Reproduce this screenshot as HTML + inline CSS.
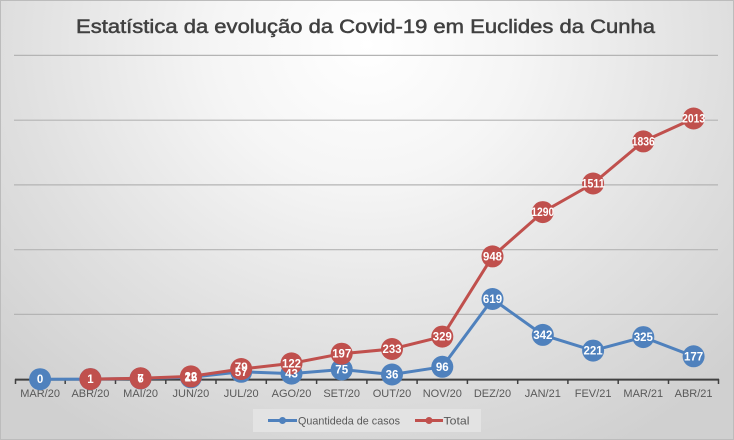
<!DOCTYPE html>
<html><head><meta charset="utf-8"><style>
html,body{margin:0;padding:0;}
body{width:734px;height:440px;overflow:hidden;}
.chart{position:relative;width:732px;height:438px;border:1px solid #bcbcbc;
background:radial-gradient(ellipse 70% 105% at 50% 10%, #ffffff 0%, #f5f5f5 30%, #e0e0e0 68%, #d0d0d0 100%);}
svg{position:absolute;left:-1px;top:-1px;}
</style></head><body>
<div class="chart">
<svg width="734" height="440" viewBox="0 0 734 440" xmlns="http://www.w3.org/2000/svg" font-family="Liberation Sans, Arial, sans-serif">
<text x="365.5" y="33" text-anchor="middle" font-size="19.5" fill="#404040" stroke="#404040" stroke-width="0.5" textLength="579" lengthAdjust="spacingAndGlyphs">Estatística da evolução da Covid-19 em Euclides da Cunha</text>
<g stroke="#b4b4b4" stroke-width="1.2">
<line x1="14" y1="55.4" x2="718" y2="55.4"/>
<line x1="14" y1="120.2" x2="718" y2="120.2"/>
<line x1="14" y1="184.9" x2="718" y2="184.9"/>
<line x1="14" y1="249.7" x2="718" y2="249.7"/>
<line x1="14" y1="314.4" x2="718" y2="314.4"/>
</g>
<g stroke="#404040">
<line x1="15" y1="379.6" x2="719" y2="379.6" stroke-width="2"/>
<g stroke-width="1.5">
<line x1="15.5" y1="379" x2="15.5" y2="384"/>
<line x1="65.2" y1="379" x2="65.2" y2="384"/>
<line x1="115.5" y1="379" x2="115.5" y2="384"/>
<line x1="165.8" y1="379" x2="165.8" y2="384"/>
<line x1="216" y1="379" x2="216" y2="384"/>
<line x1="266.3" y1="379" x2="266.3" y2="384"/>
<line x1="316.6" y1="379" x2="316.6" y2="384"/>
<line x1="366.9" y1="379" x2="366.9" y2="384"/>
<line x1="417.1" y1="379" x2="417.1" y2="384"/>
<line x1="467.4" y1="379" x2="467.4" y2="384"/>
<line x1="517.7" y1="379" x2="517.7" y2="384"/>
<line x1="567.9" y1="379" x2="567.9" y2="384"/>
<line x1="618.2" y1="379" x2="618.2" y2="384"/>
<line x1="668.5" y1="379" x2="668.5" y2="384"/>
<line x1="718.5" y1="379" x2="718.5" y2="384"/>
</g></g>
<g font-size="11" fill="#595959" text-anchor="middle">
<text x="40.1" y="397">MAR/20</text>
<text x="90.4" y="397">ABR/20</text>
<text x="140.6" y="397">MAI/20</text>
<text x="190.9" y="397">JUN/20</text>
<text x="241.2" y="397">JUL/20</text>
<text x="291.5" y="397">AGO/20</text>
<text x="341.7" y="397">SET/20</text>
<text x="392" y="397">OUT/20</text>
<text x="442.3" y="397">NOV/20</text>
<text x="492.5" y="397">DEZ/20</text>
<text x="542.8" y="397">JAN/21</text>
<text x="593.1" y="397">FEV/21</text>
<text x="643.3" y="397">MAR/21</text>
<text x="693.6" y="397">ABR/21</text>
</g>
<!-- blue series -->
<polyline fill="none" stroke="#4F81BD" stroke-width="3" stroke-linejoin="round" points="40.1,379.2 90.4,379.1 140.6,378.4 190.9,377.3 241.2,371.8 291.5,373.6 341.7,369.5 392,374.5 442.3,366.8 492.5,299 542.8,334.9 593.1,350.6 643.3,337.1 693.6,356.3"/>
<g fill="#4F81BD">
<circle cx="40.1" cy="379.2" r="11"/><circle cx="90.4" cy="379.1" r="11"/><circle cx="140.6" cy="378.4" r="11"/><circle cx="190.9" cy="377.3" r="11"/><circle cx="241.2" cy="371.8" r="11"/><circle cx="291.5" cy="373.6" r="11"/><circle cx="341.7" cy="369.5" r="11"/><circle cx="392" cy="374.5" r="11"/><circle cx="442.3" cy="366.8" r="11"/><circle cx="492.5" cy="299" r="11"/><circle cx="542.8" cy="334.9" r="11"/><circle cx="593.1" cy="350.6" r="11"/><circle cx="643.3" cy="337.1" r="11"/><circle cx="693.6" cy="356.3" r="11"/>
</g>
<!-- red series -->
<polyline fill="none" stroke="#C0504D" stroke-width="3" stroke-linejoin="round" points="90.4,379.1 140.6,378.3 190.9,376.4 241.2,369 291.5,363.4 341.7,353.7 392,349 442.3,336.6 492.5,256.4 542.8,212.1 593.1,183.5 643.3,141.4 693.6,118.5"/>
<g fill="#C0504D">
<circle cx="90.4" cy="379.1" r="11"/><circle cx="140.6" cy="378.3" r="11"/><circle cx="190.9" cy="376.4" r="11"/><circle cx="241.2" cy="369" r="11"/><circle cx="291.5" cy="363.4" r="11"/><circle cx="341.7" cy="353.7" r="11"/><circle cx="392" cy="349" r="11"/><circle cx="442.3" cy="336.6" r="11"/><circle cx="492.5" cy="256.4" r="11"/><circle cx="542.8" cy="212.1" r="11"/><circle cx="593.1" cy="183.5" r="11"/><circle cx="643.3" cy="141.4" r="11"/><circle cx="693.6" cy="118.5" r="11"/>
</g>
<g font-size="11.5" font-weight="bold" fill="#ffffff" text-anchor="middle">
<text x="40.1" y="383.2">0</text>
<text x="140.6" y="382.4">6</text>
<text x="190.9" y="381.3">15</text>
<text x="241.2" y="375.8">57</text>
<text x="291.5" y="377.6">43</text>
<text x="341.7" y="373.5">75</text>
<text x="392" y="378.5">36</text>
<text x="442.3" y="370.8">96</text>
<text x="492.5" y="303">619</text>
<text x="542.8" y="338.9">342</text>
<text x="593.1" y="354.6">221</text>
<text x="643.3" y="341.1">325</text>
<text x="693.6" y="360.3">177</text>
<text x="90.4" y="383.1">1</text>
<text x="140.6" y="382.3">7</text>
<text x="190.9" y="380.4">22</text>
<text x="241.2" y="371">79</text>
<text x="291.5" y="367.4" textLength="19" lengthAdjust="spacingAndGlyphs">122</text>
<text x="341.7" y="357.7" textLength="19" lengthAdjust="spacingAndGlyphs">197</text>
<text x="392" y="353" textLength="19" lengthAdjust="spacingAndGlyphs">233</text>
<text x="442.3" y="340.6" textLength="19" lengthAdjust="spacingAndGlyphs">329</text>
<text x="492.5" y="260.4" textLength="19" lengthAdjust="spacingAndGlyphs">948</text>
<text x="542.8" y="216.1" textLength="23" lengthAdjust="spacingAndGlyphs">1290</text>
<text x="593.1" y="187.5" textLength="23" lengthAdjust="spacingAndGlyphs">1511</text>
<text x="643.3" y="145.4" textLength="23" lengthAdjust="spacingAndGlyphs">1836</text>
<text x="693.6" y="122.5" textLength="23" lengthAdjust="spacingAndGlyphs">2013</text>
</g>
<!-- legend -->
<rect x="253" y="409" width="228" height="23" fill="#e3e3e3"/>
<line x1="268" y1="420.5" x2="297" y2="420.5" stroke="#4F81BD" stroke-width="3"/>
<circle cx="282.5" cy="420.5" r="3.5" fill="#4F81BD"/>
<text x="298" y="424.5" font-size="11" fill="#595959" textLength="102" lengthAdjust="spacingAndGlyphs">Quantideda de casos</text>
<line x1="415" y1="420.5" x2="443" y2="420.5" stroke="#C0504D" stroke-width="3"/>
<circle cx="429" cy="420.5" r="3.5" fill="#C0504D"/>
<text x="443.5" y="424.5" font-size="11" fill="#595959" textLength="26" lengthAdjust="spacingAndGlyphs">Total</text>
</svg>
</div>
</body></html>
